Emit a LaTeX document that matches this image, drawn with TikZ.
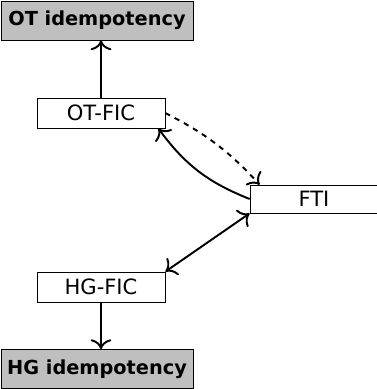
\documentclass[tikz,border=0pt]{standalone}
\usepackage{fontspec}
\setmainfont{DejaVu Sans}
\usetikzlibrary{positioning,arrows.meta}

\begin{document}
\begin{tikzpicture}[x=0.02cm, y=-0.02cm, >={To[scale=1.4]},
    every node/.style={font=\fontsize{12}{14}\selectfont},
    box/.style={draw, minimum width=2.56cm, minimum height=0.6cm, inner sep=0pt},
    goal/.style={draw, fill=gray!50, minimum width=3.84cm, minimum height=0.78cm, inner sep=0pt, font=\fontsize{11}{13}\selectfont\bfseries},
    link/.style={line width=1.1pt, ->}]
    \clip (0, 0) rectangle (377, 389);

    % Goals
    \node[goal] (ot) at (97, 20.5) {OT idempotency};
    \node[goal] (hg) at (97, 369) {HG idempotency};

    % Properties
    \node[box] (otfic) at (101, 113) {OT-FIC};
    \node[box, minimum height=0.56cm] (fti) at (314, 199) {FTI};
    \node[box] (hgfic) at (101, 287) {HG-FIC};

    % Implications
    \draw[link] (otfic.north) -- (otfic.north |- ot.south);
    \draw[link] (hgfic.south) -- (hgfic.south |- hg.north);
    \draw[link, <->] (hgfic.north east) -- (fti.south west);
    \draw[link] (fti.west) to[bend left=16] (otfic.-15.5);
    \draw[link, dashed] (otfic.east) to[bend left=10] ([xshift=0.2cm]fti.north west);
\end{tikzpicture}
\end{document}
